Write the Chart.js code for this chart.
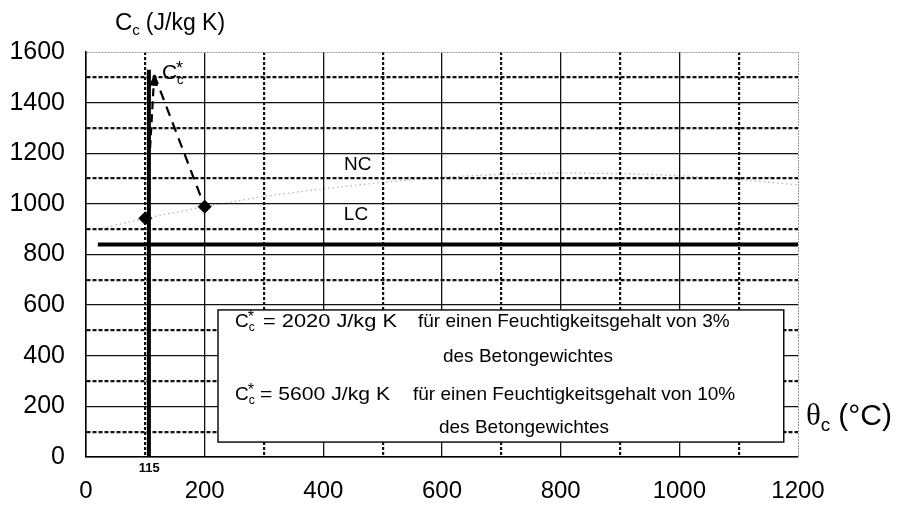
<!DOCTYPE html>
<html>
<head>
<meta charset="utf-8">
<script src="https://cdn.jsdelivr.net/npm/chart.js@4.4.1/dist/chart.umd.min.js"></script>
<style>
  html, body { margin: 0; padding: 0; background: #fff; overflow: hidden; }
  canvas { display: block; }
</style>
</head>
<body>
<canvas id="chart" width="899" height="511"></canvas>
<script>
// Specific heat of concrete c_c against temperature θ_c

// Normal concrete (NC), thin dotted curve
const tempNC = [20, 100, 200, 300, 400, 500, 600, 700, 800, 900, 1000, 1100, 1200];
const heatNC = [900, 943, 989, 1030, 1060, 1085, 1105, 1117, 1122, 1120, 1112, 1096, 1075];

// Lightweight concrete (LC), constant
const tempLC = [20, 1200];
const heatLC = [840, 840];

// Diamond markers on the NC curve
const markerTemp = [100, 200];
const markerHeat = [943, 989];

// Moisture peak C_c* at 115 °C
const riseTemp = [106, 106];
const riseHeat = [0, 1530];
const arrowTemp = [108, 115];
const arrowHeat = [1220, 1510];
const decayTemp = [115, 200];
const decayHeat = [1510, 989];
const peakTemp = 115;
const peakTempLabel = '115';

// Tick labels
const xTickLabels = ['0', '200', '400', '600', '800', '1000', '1200'];
const yTickLabels = ['0', '200', '400', '600', '800', '1000', '1200', '1400', '1600'];

// Peak values stated in the note box
const peakValues = ['2020', '5600'];
const moistureShares = ['3%', '10%'];

const pts = (xs, ys) => xs.map((x, i) => ({ x: x, y: ys[i] }));

const SANS = '"Liberation Sans", Arial, Helvetica, sans-serif';
const SERIF = '"Liberation Serif", "Times New Roman", serif';

// Draws "C" with subscript "c" and optional superscript "*"; returns end x
function drawC(ctx, x, y, size, star) {
  ctx.font = size + 'px ' + SANS;
  ctx.textAlign = 'left';
  ctx.textBaseline = 'alphabetic';
  ctx.fillText('C', x, y);
  const w = ctx.measureText('C').width;
  const small = Math.round(size * 0.62);
  ctx.font = small + 'px ' + SANS;
  ctx.fillText('c', x + w, y + size * 0.22);
  let end = x + w + ctx.measureText('c').width;
  if (star) {
    ctx.font = Math.round(size * 0.85) + 'px ' + SANS;
    ctx.fillText('*', x + w - 1, y - size * 0.26);
    end = Math.max(end, x + w - 1 + ctx.measureText('*').width);
  }
  return end;
}

// Draws left-aligned text stretched horizontally to span a given width
function fitText(ctx, text, x, y, width) {
  const w = ctx.measureText(text).width;
  ctx.save();
  ctx.translate(x, y);
  ctx.scale(width / w, 1);
  ctx.textAlign = 'left';
  ctx.fillText(text, 0, 0);
  ctx.restore();
}

const annotations = {
  id: 'annotations',
  afterDatasetsDraw(chart) {
    const ctx = chart.ctx;
    const xs = chart.scales.x;
    const ys = chart.scales.y;
    ctx.save();
    ctx.fillStyle = '#000';
    ctx.strokeStyle = '#000';

    // arrow head at the moisture peak
    const meta = chart.getDatasetMeta(4);
    const p0 = meta.data[0], p1 = meta.data[1];
    const ang = Math.atan2(p1.y - p0.y, p1.x - p0.x);
    const L = 11, W = 4.5;
    ctx.beginPath();
    ctx.moveTo(p1.x, p1.y);
    ctx.lineTo(p1.x - L * Math.cos(ang) + W * Math.sin(ang), p1.y - L * Math.sin(ang) - W * Math.cos(ang));
    ctx.lineTo(p1.x - L * Math.cos(ang) - W * Math.sin(ang), p1.y - L * Math.sin(ang) + W * Math.cos(ang));
    ctx.closePath();
    ctx.fill();

    // C_c* next to the peak
    drawC(ctx, xs.getPixelForValue(128), ys.getPixelForValue(1493), 21, true);

    // curve names
    ctx.font = '19px ' + SANS;
    ctx.textAlign = 'center';
    ctx.textBaseline = 'middle';
    ctx.fillText('NC', xs.getPixelForValue(458), ys.getPixelForValue(1154));
    ctx.fillText('LC', xs.getPixelForValue(455), ys.getPixelForValue(958));

    // peak temperature under the axis
    ctx.font = 'bold 13px ' + SANS;
    ctx.textBaseline = 'middle';
    ctx.fillText(peakTempLabel, xs.getPixelForValue(peakTemp) - 5, ys.bottom + 11);

    // note box
    const L0 = xs.getPixelForValue(222.5), R0 = xs.getPixelForValue(1176);
    const T0 = ys.getPixelForValue(581), B0 = ys.getPixelForValue(59);
    ctx.fillStyle = '#fff';
    ctx.fillRect(L0, T0, R0 - L0, B0 - T0);
    ctx.lineWidth = 1.5;
    ctx.strokeStyle = '#111';
    ctx.strokeRect(L0, T0, R0 - L0, B0 - T0);

    ctx.fillStyle = '#000';
    const fs = 19;
    const rows = [
      { base: 17, eq: 45, eqW: 134, text: 200, sub: 52, mid: 310 },
      { base: 90, eq: 42, eqW: 130, text: 195, sub: 123, mid: 306 }
    ];
    rows.forEach((r, i) => {
      drawC(ctx, L0 + 17, T0 + r.base, fs, true);
      ctx.font = fs + 'px ' + SANS;
      ctx.textBaseline = 'alphabetic';
      fitText(ctx, '= ' + peakValues[i] + ' J/kg K', L0 + r.eq, T0 + r.base, r.eqW);
      ctx.textAlign = 'left';
      ctx.fillText('für einen Feuchtigkeitsgehalt von ' + moistureShares[i], L0 + r.text, T0 + r.base);
      ctx.textAlign = 'center';
      ctx.fillText('des Betongewichtes', L0 + r.mid, T0 + r.sub);
    });

    // axis titles
    const tx = drawC(ctx, 115, 30, 24, false);
    ctx.font = '23px ' + SANS;
    ctx.textAlign = 'left';
    ctx.fillText('(J/kg K)', tx + 6, 30);

    ctx.font = '31px ' + SERIF;
    ctx.fillText('θ', 806, 425);
    const tw = ctx.measureText('θ').width;
    ctx.font = '19px ' + SANS;
    ctx.fillText('c', 806 + tw, 431);
    const cw = ctx.measureText('c').width;
    ctx.font = '30px ' + SANS;
    ctx.fillText('(°C)', 806 + tw + cw + 8, 425);

    ctx.restore();
  }
};

const odd = v => Math.round(v) % 200 !== 0;

new Chart(document.getElementById('chart'), {
  type: 'scatter',
  data: {
    datasets: [
      { data: pts(tempNC, heatNC), showLine: true, borderColor: 'rgba(0,0,0,0.3)', borderWidth: 1.2,
        borderDash: [1.5, 3], pointRadius: 0, tension: 0 },
      { data: pts(tempLC, heatLC), showLine: true, borderColor: '#000', borderWidth: 4, pointRadius: 0 },
      { data: pts(markerTemp, markerHeat), showLine: false, pointStyle: 'rectRot', pointRadius: 6.5,
        backgroundColor: '#000', borderColor: '#000', borderWidth: 1 },
      { data: pts(riseTemp, riseHeat), showLine: true, borderColor: '#000', borderWidth: 4, pointRadius: 0 },
      { data: pts(arrowTemp, arrowHeat), showLine: true, borderColor: '#000', borderWidth: 2.2,
        borderDash: [8, 5], pointRadius: 0 },
      { data: pts(decayTemp, decayHeat), showLine: true, borderColor: '#000', borderWidth: 2.2,
        borderDash: [10, 7], pointRadius: 0 }
    ]
  },
  options: {
    responsive: false,
    animation: false,
    events: [],
    layout: { padding: { top: 52, right: 101, left: 0, bottom: 0 } },
    plugins: { legend: { display: false }, tooltip: { enabled: false } },
    scales: {
      x: {
        type: 'linear', min: 0, max: 1200,
        afterFit: s => { s.height = 54; },
        ticks: {
          stepSize: 100, autoSkip: false, maxRotation: 0, padding: 20, color: '#000',
          font: { family: SANS, size: 24 },
          callback: v => (odd(v) ? '' : xTickLabels[Math.round(v / 200)])
        },
        grid: {
          drawTicks: false,
          color: c => (c.tick && c.tick.value === 1200 ? '#9a9a9a' : '#111'),
          lineWidth: c => (c.tick && odd(c.tick.value) ? 2.2 : (c.tick && c.tick.value === 1200 ? 1 : 1.3))
        },
        border: {
          display: true, color: '#000', width: 1.5,
          dash: c => (c.tick && odd(c.tick.value) ? [3, 2] : (c.tick && c.tick.value === 1200 ? [2, 1] : []))
        }
      },
      y: {
        type: 'linear', min: 0, max: 1600,
        afterFit: s => { s.width = 86; },
        ticks: {
          stepSize: 100, autoSkip: false, padding: 21, color: '#000',
          font: { family: SANS, size: 25 },
          callback: v => (odd(v) ? '' : yTickLabels[Math.round(v / 200)])
        },
        grid: {
          drawTicks: false,
          color: c => (c.tick && c.tick.value === 1600 ? '#9a9a9a' : '#111'),
          lineWidth: c => (c.tick && odd(c.tick.value) ? 2.2 : (c.tick && c.tick.value === 1600 ? 1 : 1.3))
        },
        border: {
          display: true, color: '#000', width: 1.5,
          dash: c => (c.tick && odd(c.tick.value) ? [4, 2] : (c.tick && c.tick.value === 1600 ? [2, 1] : []))
        }
      }
    }
  },
  plugins: [annotations]
});
</script>
</body>
</html>
